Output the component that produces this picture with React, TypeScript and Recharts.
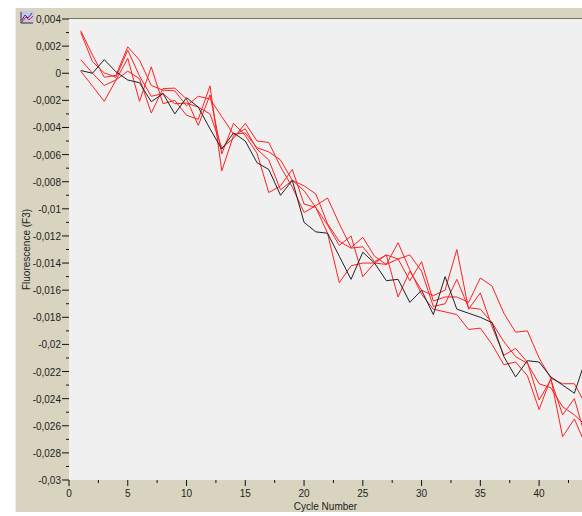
import React from 'react';
import { LineChart, Line, XAxis, YAxis, CartesianGrid } from 'recharts';

const cycles = [
  1, 2, 3, 4, 5, 6, 7, 8, 9, 10, 11, 12, 13, 14, 15, 16, 17, 18, 19, 20, 21, 22,
  23, 24, 25, 26, 27, 28, 29, 30, 31, 32, 33, 34, 35, 36, 37, 38, 39, 40, 41, 42, 43, 44,
];

// values in thousandths of a fluorescence unit
const black = [
  0.2, 0, 1, 0.1, -0.5, -0.7, -2.1, -1.5, -3, -1.8, -2.5, -4.1, -5.6, -4.4, -5, -6.6, -7.1, -9, -7.9, -11, -11.7, -11.8,
  -13.5, -15.2, -13.2, -14, -15.3, -15.2, -16.9, -16, -17.8, -15, -17.4, -17.7, -18, -18.4, -20.9, -22.4, -21.2, -21.3, -22.4, -23, -23.6, -21,
];
const redA = [
  3.14, 1.34, -0.3, -0.15, 1.95, 0.97, -0.9, -1.25, -1.3, -2.4, -1.7, -1.9, -3.2, -4.5, -4.4, -5.5, -5.8, -6.4, -7.9, -8.3, -8.9, -11.1,
  -12.4, -12.9, -12.8, -13.9, -13.4, -13.7, -15.3, -13.9, -16.8, -16.5, -16.5, -16.9, -15.1, -15.7, -17.7, -19.1, -19, -21, -22.5, -22.9, -22.9, -24.5,
];
const redB = [
  3, 0.85, 0.03, -0.3, 1.7, -0.2, -1.7, -1.5, -2.25, -2.2, -2.5, -3, -5.5, -4.8, -3.7, -5, -5.1, -6.9, -8.4, -10.27, -9.77, -9.2,
  -11.1, -12.86, -12.1, -13.5, -14.1, -13.7, -13.4, -14.6, -17.2, -17, -15.2, -17.3, -17.4, -18.4, -19.8, -20.9, -21.4, -22.9, -23.2, -24.6, -25.2, -26,
];
const redC = [
  1, 0, -0.9, -0.5, 0.15, -0.4, -2.93, -1.13, -1.1, -1.9, -3.85, -1.6, -5.95, -3.7, -4.6, -5.9, -8.8, -8.3, -7.1, -9.65, -9.9, -11.8,
  -15.45, -14.2, -14, -14, -14.1, -12.5, -14.5, -16.3, -17.4, -17.6, -17.8, -18.9, -18.8, -20, -21.5, -21.3, -22.3, -24.8, -22.5, -26.8, -25.5, -27.5,
];
const redD = [
  0.15, -0.95, -2.07, -0.5, 1.1, -2.07, 0.47, -2.25, -2, -3.1, -3.4, -0.93, -7.2, -4.6, -4.1, -5.6, -6.4, -8.6, -7.9, -8.66, -9.9, -11.2,
  -12.7, -12, -15, -14, -13.4, -16.5, -14.6, -16, -16.4, -16, -13, -17.4, -16.2, -18.7, -20.8, -20.3, -21.3, -24.1, -22.6, -25.2, -24, -27,
];
const xTicks = [0, 2.5, 5, 7.5, 10, 12.5, 15, 17.5, 20, 22.5, 25, 27.5, 30, 32.5, 35, 37.5, 40, 42.5];
const yTicks = [
  4, 3, 2, 1, 0, -1, -2, -3, -4, -5, -6, -7, -8, -9, -10, -11, -12, -13, -14, -15, -16, -17,
  -18, -19, -20, -21, -22, -23, -24, -25, -26, -27, -28, -29, -30,
];

const chartData = cycles.map((cycle, i) => ({
  cycle,
  black: black[i],
  redA: redA[i],
  redB: redB[i],
  redC: redC[i],
  redD: redD[i],
}));

const FONT = '"Liberation Sans", Arial, sans-serif';
const TEXT = '#222';

const formatY = (v: number) => {
  if (v === 0) return '0';
  return String(v / 1000).replace('.', ',');
};

const XTick = ({ x, y, payload }: any) => {
  const major = payload.value % 5 === 0;
  return (
    <g>
      <line x1={x} x2={x} y1={y} y2={y + (major ? 6 : 3)} stroke="#111" />
      {major && (
        <text x={x} y={y + 17} textAnchor="middle" fontSize={10} fontFamily={FONT} fill={TEXT}>
          {payload.value}
        </text>
      )}
    </g>
  );
};

const YTick = ({ x, y, payload }: any) => {
  const major = payload.value % 2 === 0;
  return (
    <g>
      <line x1={x - (major ? 7 : 3)} x2={x} y1={y} y2={y} stroke="#111" />
      {major && (
        <text x={x - 8} y={y + 4} textAnchor="end" fontSize={10} fontFamily={FONT} fill={TEXT}>
          {formatY(payload.value)}
        </text>
      )}
    </g>
  );
};

const App = () => (
  <div style={{ position: 'absolute', left: 0, top: 0, width: 582, height: 516, background: '#fff', overflow: 'hidden' }}>
    <div style={{ position: 'absolute', left: 15, top: 8, right: 0, height: 504, background: '#d8d4bf', borderLeft: '1px solid #efeee4' }} />
    <div style={{ position: 'absolute', left: 0, top: 0 }}>
      <LineChart width={582} height={516} data={chartData} margin={{ top: 19, right: 0, bottom: 0, left: 0 }}>
        <CartesianGrid horizontal={false} vertical={false} fill="#f0f0f0" />
        <XAxis
          type="number"
          dataKey="cycle"
          domain={[0, 43.65]}
          allowDataOverflow
          ticks={xTicks}
          interval={0}
          axisLine={false}
          tickLine={false}
          tickSize={0}
          tickMargin={0}
          tick={<XTick />}
          height={36}
          label={{ value: 'Cycle Number', position: 'insideBottom', offset: 6, fontSize: 10, fontFamily: FONT, fill: TEXT }}
        />
        <YAxis
          type="number"
          domain={[-30, 4]}
          ticks={yTicks}
          interval={0}
          width={69}
          axisLine={false}
          tickLine={false}
          tickSize={0}
          tickMargin={0}
          tick={<YTick />}
          label={{ value: 'Fluorescence (F3)', angle: -90, position: 'insideLeft', offset: 26, fontSize: 10, fontFamily: FONT, fill: TEXT, style: { textAnchor: 'middle' } }}
        />
        <Line dataKey="redA" stroke="#ff2020" strokeWidth={1} dot={false} isAnimationActive={false} />
        <Line dataKey="redB" stroke="#ff2020" strokeWidth={1} dot={false} isAnimationActive={false} />
        <Line dataKey="redC" stroke="#ff2020" strokeWidth={1} dot={false} isAnimationActive={false} />
        <Line dataKey="redD" stroke="#ff2020" strokeWidth={1} dot={false} isAnimationActive={false} />
        <Line dataKey="black" stroke="#222" strokeWidth={1} dot={false} isAnimationActive={false} />
      </LineChart>
    </div>
    <div style={{ position: 'absolute', left: 69, top: 18, right: 0, height: 1, background: '#77755f' }} />
    <svg width={14} height={13} style={{ position: 'absolute', left: 20, top: 11 }}>
      <rect x={0} y={0} width={14} height={13} fill="#c9c6e0" />
      <path d="M1 1V12H13" fill="none" stroke="#333" />
      <path d="M2 9L5 4L8 7L12 2" fill="none" stroke="#2030c0" />
      <path d="M2 11L6 6L9 9L13 5" fill="none" stroke="#e02020" />
    </svg>
  </div>
);

export default App;
